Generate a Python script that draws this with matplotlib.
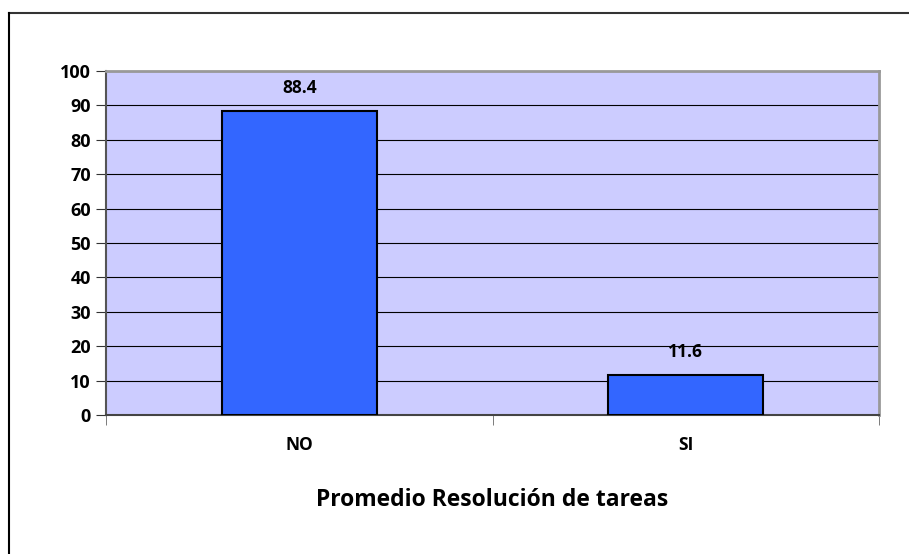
import matplotlib
matplotlib.use("Agg")
import matplotlib.pyplot as plt
from matplotlib.lines import Line2D
from matplotlib.ticker import FixedLocator

categories = ["NO", "SI"]
values = [88.4, 11.6]
yticks = [0, 10, 20, 30, 40, 50, 60, 70, 80, 90, 100]
title = "Promedio Resolución de tareas"

plt.rcParams['font.family'] = ['Open Sans', 'DejaVu Sans']

W, H = 909, 554
fig = plt.figure(figsize=(W / 100, H / 100), dpi=100)
fig.patch.set_facecolor("white")

# outer border (top and left visible)
fig.add_artist(Line2D([9 / W, 1.0], [1 - 13 / H, 1 - 13 / H], transform=fig.transFigure,
                      color="#333333", lw=1.5))
fig.add_artist(Line2D([9 / W, 9 / W], [0, 1 - 13 / H], transform=fig.transFigure,
                      color="#000000", lw=1.5))

ax = fig.add_axes([106 / W, 1 - 415 / H, (879 - 106) / W, (415 - 71) / H])
ax.set_facecolor("#CCCCFF")

x = list(range(len(categories)))
ax.bar(x, values, width=0.4, color="#3366FF", edgecolor="black", linewidth=1.5, zorder=3)
for xi, v in zip(x, values):
    ax.text(xi, v + 6.7, f"{v:.1f}", ha="center", va="center", fontsize=12.5,
            fontweight="bold", zorder=4)

ax.set_xlim(-0.5, len(categories) - 0.5)
ax.set_ylim(0, 100)
ax.set_yticks(yticks)
ax.set_yticklabels([str(t) for t in yticks], fontsize=13, fontweight="bold")
ax.yaxis.grid(True, color="black", linewidth=0.8, zorder=1)
ax.set_axisbelow(True)

ax.set_xticks(x)
ax.set_xticklabels(categories, fontsize=12.5, fontweight="bold")
ax.xaxis.set_minor_locator(FixedLocator([-0.5 + i for i in range(len(categories) + 1)]))
ax.tick_params(axis="x", which="major", length=0, pad=15)
ax.tick_params(axis="x", which="minor", length=7, color="#666666", direction="out")
ax.tick_params(axis="y", length=7, color="#333333", direction="out", pad=4)

ax.spines["top"].set_color("#999999")
ax.spines["right"].set_color("#999999")
ax.spines["top"].set_linewidth(2)
ax.spines["right"].set_linewidth(2)
ax.spines["left"].set_color("#555555")
ax.spines["bottom"].set_color("#444444")
ax.spines["left"].set_linewidth(1.5)
ax.spines["bottom"].set_linewidth(1.5)

fig.text((106 + 879) / 2 / W, 1 - 500 / H, title, ha="center", va="center",
         fontsize=16.5, fontweight="bold")

fig.savefig("out.png", dpi=100, facecolor="white")
